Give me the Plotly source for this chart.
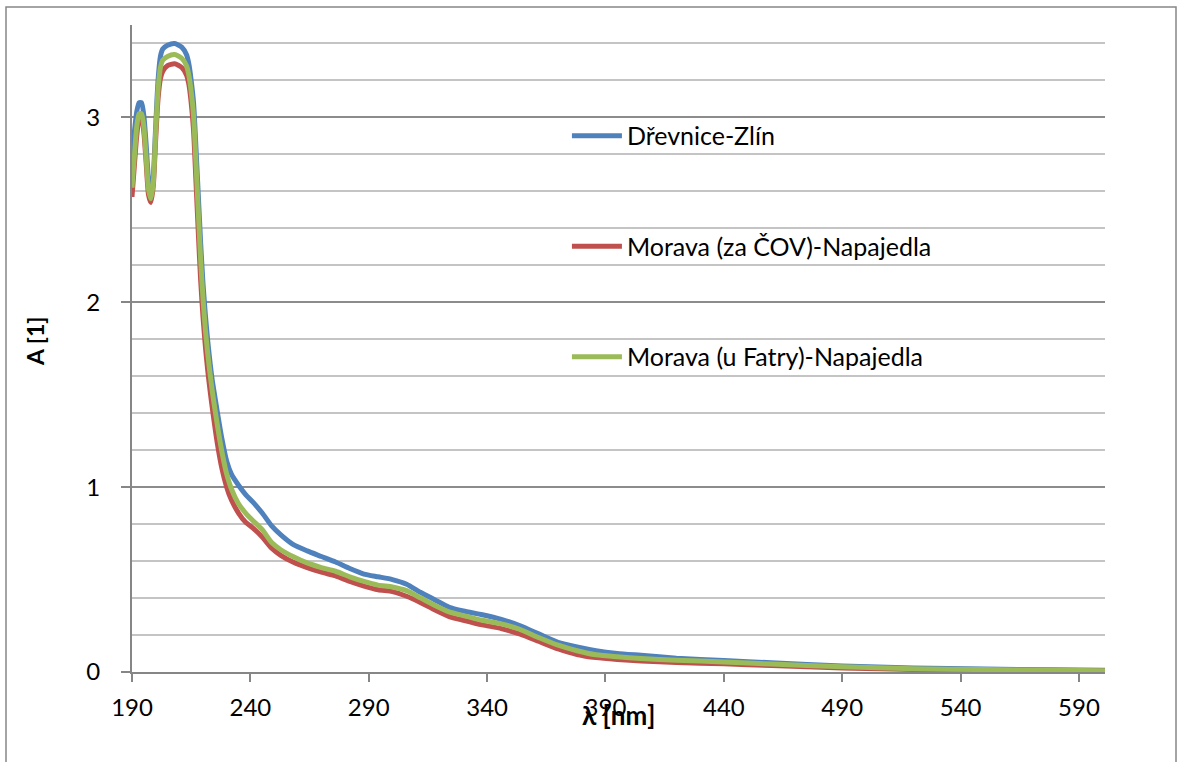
import plotly.graph_objects as go

wavelength_nm = [190, 191, 192, 193, 194, 195, 196, 197, 198, 199, 200, 201, 202, 203, 205, 208, 211, 213, 214,
                 215, 216, 217, 218, 219, 220, 221, 222, 223, 224, 226, 228, 230, 232, 235, 238, 241, 245, 249,
                 253, 258, 264, 270, 276, 282, 288, 294, 300, 306, 312, 318, 324, 330, 338, 346, 354, 362, 370,
                 378, 386, 395, 405, 420, 440, 460, 490, 520, 550, 580, 601]

drevnice_zlin = [2.77, 2.92, 3.03, 3.08, 3.08, 3.01, 2.85, 2.66, 2.58, 2.68, 2.95, 3.20, 3.33, 3.37, 3.39, 3.40,
                 3.38, 3.34, 3.29, 3.20, 3.08, 2.84, 2.58, 2.32, 2.10, 1.93, 1.79, 1.67, 1.57, 1.41, 1.26, 1.14,
                 1.07, 1.01, 0.96, 0.92, 0.86, 0.79, 0.74, 0.69, 0.655, 0.625, 0.595, 0.56, 0.53, 0.515, 0.50,
                 0.475, 0.43, 0.39, 0.35, 0.33, 0.31, 0.285, 0.25, 0.205, 0.16, 0.135, 0.115, 0.10, 0.09, 0.075,
                 0.062, 0.05, 0.033, 0.022, 0.016, 0.012, 0.01]

morava_za_cov = [2.57, 2.74, 2.90, 2.99, 3.00, 2.92, 2.75, 2.58, 2.54, 2.63, 2.88, 3.10, 3.21, 3.25, 3.28, 3.29,
                 3.27, 3.23, 3.18, 3.08, 2.93, 2.66, 2.38, 2.12, 1.92, 1.76, 1.63, 1.52, 1.42, 1.24, 1.10, 1.00,
                 0.93, 0.86, 0.81, 0.78, 0.73, 0.67, 0.63, 0.595, 0.565, 0.54, 0.52, 0.49, 0.465, 0.445, 0.435,
                 0.41, 0.375, 0.335, 0.30, 0.28, 0.255, 0.235, 0.205, 0.165, 0.125, 0.095, 0.078, 0.068, 0.06,
                 0.052, 0.044, 0.035, 0.022, 0.014, 0.01, 0.007, 0.005]

morava_u_fatry = [2.62, 2.79, 2.95, 3.02, 3.02, 2.95, 2.78, 2.61, 2.56, 2.65, 2.92, 3.15, 3.27, 3.31, 3.33, 3.34,
                  3.32, 3.28, 3.23, 3.14, 3.01, 2.76, 2.49, 2.23, 2.02, 1.85, 1.72, 1.61, 1.51, 1.34, 1.19, 1.07,
                  0.99, 0.91, 0.86, 0.82, 0.77, 0.70, 0.66, 0.625, 0.59, 0.565, 0.545, 0.515, 0.49, 0.47, 0.46,
                  0.44, 0.40, 0.36, 0.325, 0.305, 0.28, 0.26, 0.23, 0.185, 0.145, 0.115, 0.093, 0.082, 0.073,
                  0.064, 0.054, 0.043, 0.028, 0.018, 0.013, 0.009, 0.007]

series_names = ["Dřevnice-Zlín", "Morava (za ČOV)-Napajedla", "Morava (u Fatry)-Napajedla"]
series_values = [drevnice_zlin, morava_za_cov, morava_u_fatry]
series_colors = ["#4F81BD", "#C0504D", "#9BBB59"]

x_ticks = [190, 240, 290, 340, 390, 440, 490, 540, 590]
y_ticks = [0, 1, 2, 3]

FONT = "Lato, Carlito, Calibri, 'Liberation Sans', sans-serif"

fig = go.Figure()
for i, (name, vals, col) in enumerate(zip(series_names, series_values, series_colors)):
    fig.add_trace(go.Scatter(
        x=wavelength_nm, y=vals, name=name, mode="lines",
        line=dict(color=col, width=5, shape="spline", smoothing=0.6),
        legendgroup=f"g{i}",
    ))

fig.update_layout(
    width=1179, height=762,
    margin=dict(l=132, r=74, t=25, b=90),
    paper_bgcolor="white", plot_bgcolor="white",
    font=dict(family=FONT, size=24, color="black"),
    showlegend=True,
    legend=dict(x=0.447, y=0.864, xanchor="left", yanchor="top",
                bgcolor="rgba(0,0,0,0)", tracegroupgap=75,
                font=dict(family=FONT, size=25, color="black"),
                itemwidth=50),
    xaxis=dict(
        range=[190, 601], tickvals=x_ticks, ticktext=[str(v) for v in x_ticks],
        showgrid=False, zeroline=False,
        showline=True, linecolor="#868686", linewidth=2,
        ticks="outside", ticklen=8, tickcolor="#868686", tickwidth=2,
        ticklabelstandoff=5,
        tickfont=dict(family=FONT, size=24, color="black"),
    ),
    yaxis=dict(
        range=[0, 3.5], tickvals=y_ticks, ticktext=[str(v) for v in y_ticks],
        showgrid=True, gridcolor="#8C8C8C", gridwidth=1.5,
        zeroline=False,
        showline=True, linecolor="#868686", linewidth=2,
        ticks="outside", ticklen=9, tickcolor="#868686", tickwidth=2,
        ticklabelstandoff=16,
        tickfont=dict(family=FONT, size=24, color="black"),
        minor=dict(dtick=0.2, tick0=0, showgrid=True, gridcolor="#C4C4C4", gridwidth=1.5, ticks=""),
    ),
    annotations=[
        dict(text="<b>λ [nm]</b>", xref="x", yref="paper", x=395.5, y=-0.0665,
             xanchor="center", yanchor="middle", showarrow=False,
             font=dict(family=FONT, size=26, color="black")),
        dict(text="<b>A [1]</b>", xref="paper", yref="paper", x=(35 - 132) / 973, y=(672 - 341) / 647,
             xanchor="center", yanchor="middle", showarrow=False, textangle=-90,
             font=dict(family=FONT, size=23, color="black")),
    ],
    shapes=[dict(
        type="rect", xref="paper", yref="paper",
        x0=(6 - 132) / 973, x1=(1176 - 132) / 973,
        y0=-0.17, y1=(672 - 7) / 647,
        line=dict(color="#868686", width=1.5), fillcolor="rgba(0,0,0,0)", layer="below",
    )],
)

fig.write_html("out.html")
